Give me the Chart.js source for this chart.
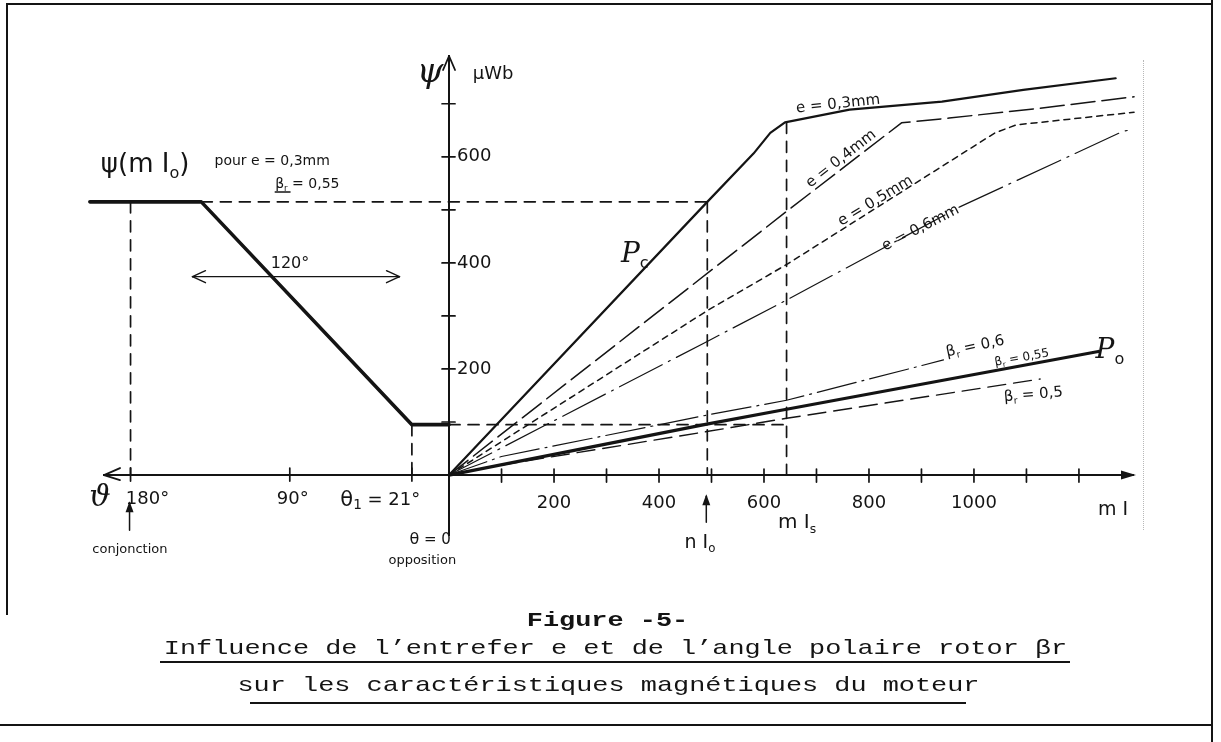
<!DOCTYPE html>
<html lang="fr">
<head>
<meta charset="utf-8">
<title>Figure -5-</title>
<script src="https://cdn.jsdelivr.net/npm/chart.js@4.4.1/dist/chart.umd.min.js"></script>
<style>
html,body{margin:0;padding:0;background:#fff;}
#wrap{position:relative;width:1221px;height:742px;overflow:hidden;background:#fff;}
#c{position:absolute;left:0;top:0;}
.cap{position:absolute;width:1221px;text-align:center;font-family:"Liberation Mono","DejaVu Sans Mono",monospace;color:#141414;white-space:nowrap;line-height:1;font-size:21px;transform:scaleX(1.28);transform-origin:center;}
.ln{position:absolute;background:#141414;}
.dot{position:absolute;border-left:1px dotted #b8b8b8;width:0;}
</style>
</head>
<body>
<div id="wrap">
  <canvas id="c" width="1221" height="742"></canvas>
  <div class="ln" style="left:6px;top:3px;width:1207px;height:2px"></div>
  <div class="ln" style="left:6px;top:3px;width:2px;height:612px"></div>
  <div class="ln" style="left:1211px;top:0;width:2px;height:742px"></div>
  <div class="ln" style="left:0;top:724px;width:1213px;height:2px"></div>
  <div class="dot" style="left:1143px;top:60px;height:470px"></div>
  <div class="cap" style="top:610px;left:-3px;font-weight:bold;">Figure -5-</div>
  <div class="cap" style="top:638px;left:5px;">Influence de l’entrefer e et de l’angle polaire rotor βr</div>
  <div class="ln" style="left:160px;top:661px;width:910px;height:2px"></div>
  <div class="cap" style="top:675px;left:-2px;">sur les caractéristiques magnétiques du moteur</div>
  <div class="ln" style="left:250px;top:702px;width:716px;height:2px"></div>
</div>
<script>
// ---------------- data ----------------
// right half-plane : flux ψ (µWb) versus mI, for several air gaps e (βr = 0,55)
const mI_e03  = [0, 492, 580, 612, 640, 763, 939, 1094, 1270];
const psi_e03 = [0, 515, 606, 645, 665, 689, 704, 726, 748];
const mI_e04  = [0, 643, 862, 953, 1130, 1305];
const psi_e04 = [0, 497, 664, 673, 692, 713];
const mI_e05  = [0, 492, 645, 1040, 1080, 1305];
const psi_e05 = [0, 310, 398, 645, 660, 684];
const mI_e06  = [0, 490, 645, 974, 1284, 1305];
const psi_e06 = [0, 251, 331, 506, 648, 652];
// opposition-position curves for several rotor pole angles βr
const mI_b06   = [0, 100, 491, 643, 942];
const psi_b06  = [0, 35, 113, 141, 217];
const mI_b055  = [0, 491, 643, 1237];
const psi_b055 = [0, 96, 124, 233];
const mI_b05   = [0, 100, 491, 643, 1126];
const psi_b05  = [0, 19, 82, 107, 181];
// left half-plane : ψ(mI0) versus rotor angle θ (degrees)
const theta_deg = [203, 140, 21, 0];
const psi_theta = [515, 515, 95, 95];
// characteristic values
const mI0 = 492, mIs = 643, psi_mI0 = 515, psi_knee03 = 665, psi_opp = 95;
const theta_plateau = 140, theta_conj = 180, theta_1 = 21;
// ticks
const mI_ticks        = [100, 200, 300, 400, 500, 600, 700, 800, 900, 1000, 1100, 1200];
const mI_tick_labels  = ['', '200', '', '400', '', '600', '', '800', '', '1000', '', ''];
const theta_ticks       = [180, 90, 21];
const theta_tick_labels = ['180°', '90°', ''];
const psi_ticks       = [100, 200, 300, 400, 500, 600, 700];
const psi_tick_labels = ['', '200', '', '400', '', '600', ''];

// ---------------- drawing ----------------
const INK = '#141414';
const HAND = '"DejaVu Sans","Liberation Sans",sans-serif';
const SERIF = '"DejaVu Serif","Liberation Serif",serif';
const DEG = 3.371;                 // mI-units per degree on the θ half-axis
const toX = t => -t * DEG;
const X_MIN = toX(195), X_MAX = 1303, Y_MIN = -113, Y_MAX = 790;

const pts = (xs, ys) => xs.map((v, i) => ({x: v, y: ys[i]}));
const ds = (data, w, dash) => ({data, borderColor: INK, borderWidth: w, borderDash: dash || [],
  pointRadius: 0, fill: false, tension: 0, clip: false, borderCapStyle: 'round', borderJoinStyle: 'round'});
const guide = data => ds(data, 1.7, [11, 8]);

const datasets = [
  guide([{x: toX(theta_plateau), y: psi_mI0}, {x: mI0, y: psi_mI0}]),
  guide([{x: toX(theta_conj), y: psi_mI0}, {x: toX(theta_conj), y: 0}]),
  guide([{x: toX(theta_1), y: psi_opp}, {x: toX(theta_1), y: 0}]),
  guide([{x: 0, y: psi_opp}, {x: mIs, y: psi_opp}]),
  guide([{x: mI0, y: psi_mI0}, {x: mI0, y: 0}]),
  guide([{x: mIs, y: psi_knee03}, {x: mIs, y: 0}]),
  ds(theta_deg.map((t, i) => ({x: toX(t), y: psi_theta[i]})), 3.6),
  ds(pts(mI_e03, psi_e03), 2.2),
  ds(pts(mI_e04, psi_e04), 1.5, [24, 7]),
  ds(pts(mI_e05, psi_e05), 1.5, [6, 5]),
  ds(pts(mI_e06, psi_e06), 1.2, [48, 7, 2, 7]),
  ds(pts(mI_b06, psi_b06), 1.2, [40, 6, 2, 6]),
  ds(pts(mI_b055, psi_b055), 3.2),
  ds(pts(mI_b05, psi_b05), 1.4, [18, 8])
];

// rich text: parts = [[text, size, family?, 'sub'?, 'u'?, extraDy?], ...]
function rich(ctx, parts, X, Y, rot, align) {
  ctx.save();
  ctx.translate(X, Y);
  ctx.rotate((rot || 0) * Math.PI / 180);
  ctx.textBaseline = 'alphabetic'; ctx.textAlign = 'left';
  let w = 0, maxSize = 0;
  const items = parts.map(p => {
    const size = p[3] === 'sub' ? p[1] * 0.62 : p[1];
    const font = (p[2] === 'serif' ? 'italic ' : '') + size + 'px ' + (p[2] === 'serif' ? SERIF : HAND);
    ctx.font = font;
    const wd = ctx.measureText(p[0]).width;
    w += wd;
    if (p[3] !== 'sub') maxSize = Math.max(maxSize, p[1]);
    return {t: p[0], font, wd, dy: (p[3] === 'sub' ? p[1] * 0.22 : 0) + (p[5] || 0), u: p[4] === 'u', size};
  });
  const base = maxSize * 0.36;          // put the x-height centre on Y
  let cx = align === 'left' ? 0 : -w / 2;
  for (const it of items) {
    ctx.font = it.font;
    ctx.fillText(it.t, cx, base + it.dy);
    if (it.u) { ctx.lineWidth = 1.3; ctx.beginPath(); ctx.moveTo(cx, base + it.size * 0.3); ctx.lineTo(cx + it.wd + 6, base + it.size * 0.3); ctx.stroke(); }
    cx += it.wd;
  }
  ctx.restore();
}

const deco = {
  id: 'deco',
  afterDraw(chart) {
    const {ctx, scales: {x, y}} = chart;
    const PX = v => x.getPixelForValue(v), PY = v => y.getPixelForValue(v);
    const x0 = PX(0), y0 = PY(0);
    ctx.save();
    ctx.strokeStyle = INK; ctx.fillStyle = INK; ctx.lineCap = 'round';
    const seg = (a, b, c, d, w) => { ctx.lineWidth = w || 1.7; ctx.beginPath(); ctx.moveTo(a, b); ctx.lineTo(c, d); ctx.stroke(); };
    // tick marks crossing the axes
    mI_ticks.forEach(v => seg(PX(v), y0 - 6, PX(v), y0 + 7));
    theta_ticks.forEach(t => seg(PX(toX(t)), y0 - 7, PX(toX(t)), y0 + 6));
    psi_ticks.forEach(v => seg(x0 - 7, PY(v), x0 + 6, PY(v)));
    // ψ tick labels (right of the axis)
    ctx.font = '18px ' + HAND; ctx.textAlign = 'left'; ctx.textBaseline = 'middle';
    psi_ticks.forEach((v, i) => { if (psi_tick_labels[i]) ctx.fillText(psi_tick_labels[i], x0 + 8, PY(v)); });
    // θ tick labels
    rich(ctx, [[theta_tick_labels[0], 18]], PX(toX(theta_ticks[0])) + 17, y0 + 22);
    rich(ctx, [[theta_tick_labels[1], 18]], PX(toX(theta_ticks[1])) + 3, y0 + 22);
    rich(ctx, [['θ', 21, null, null, null, 1], ['1', 22, null, 'sub'], [' = 21°', 18]], PX(-131), y0 + 22);
    rich(ctx, [['ϑ', 30, 'serif']], PX(-665), y0 + 20);
    // axis arrows
    const lx = PX(X_MIN), rx = PX(X_MAX), ty = PY(Y_MAX);
    seg(lx, y0, lx + 16, y0 - 7, 1.8); seg(lx, y0, lx + 16, y0 + 5, 1.8);
    ctx.beginPath(); ctx.moveTo(rx + 3, y0); ctx.lineTo(rx - 12, y0 - 4.5); ctx.lineTo(rx - 12, y0 + 4.5); ctx.closePath(); ctx.fill();
    seg(x0, ty, x0 - 6, ty + 14, 1.8); seg(x0, ty, x0 + 6, ty + 14, 1.8);
    // small pointing arrows (conjonction, nI0)
    const upArrow = (X, y1, y2) => {
      seg(X, y1, X, y2, 1.5);
      ctx.beginPath(); ctx.moveTo(X, y2 - 2); ctx.lineTo(X - 4, y2 + 9); ctx.lineTo(X + 4, y2 + 9); ctx.closePath(); ctx.fill();
    };
    upArrow(PX(toX(theta_conj)) - 1, PY(-104), PY(-53));
    upArrow(PX(mI0) - 1, PY(-89), PY(-40));
    // 120° double arrow
    const ay = PY(374), ax1 = PX(toX(145)), ax2 = PX(toX(28));
    seg(ax1, ay, ax2, ay, 1.4);
    seg(ax1, ay, ax1 + 13, ay - 6, 1.4); seg(ax1, ay, ax1 + 13, ay + 6, 1.4);
    seg(ax2, ay, ax2 - 13, ay - 6, 1.4); seg(ax2, ay, ax2 - 13, ay + 6, 1.4);

    // annotations [parts, x, y, rotation]
    const notes = [
      [[['ψ', 34, 'serif']], -36, 764, 0],
      [[['µWb', 18]], 84, 758, 0],
      [[['ψ(m I', 26], ['o', 26, null, 'sub'], [')', 26]], -579, 589, 0],
      [[['pour e = 0,3mm', 14]], -337, 594, 0],
      [[['β', 14, null, null, 'u'], ['r', 14, null, 'sub'], [' = 0,55', 14]], -270, 551, 0],
      [[['120°', 16]], -303, 402, 0],
      [[['conjonction', 13]], -608, -138, 0],
      [[['θ', 16], [' = 0', 15]], -36, -119, 0],
      [[['opposition', 13]], -51, -158, 0],
      [[['n I', 19], ['o', 19, null, 'sub']], 478, -125, 0],
      [[['m I', 20], ['s', 20, null, 'sub']], 663, -87, 0],
      [[['m I', 19]], 1265, -62, 0],
      [[['P', 28, 'serif'], ['c', 26, null, 'sub']], 354, 421, 0],
      [[['P', 28, 'serif'], ['o', 26, null, 'sub']], 1259, 240, 0],
      [[['e = 0,3mm', 15]], 741, 702, -6],
      [[['e = 0,4mm', 15]], 745, 598, -38],
      [[['e = 0,5mm', 15]], 811, 519, -31],
      [[['e = 0,6mm', 15]], 897, 468, -27],
      [[['β', 15], ['r', 15, null, 'sub'], [' = 0,6', 15]], 1002, 245, -12],
      [[['β', 12], ['r', 12, null, 'sub'], [' = 0,55', 12]], 1091, 223, -10],
      [[['β', 15], ['r', 15, null, 'sub'], [' = 0,5', 15]], 1113, 154, -5]
    ];
    notes.forEach(n => rich(ctx, n[0], PX(n[1]), PY(n[2]), n[3]));
    ctx.restore();
  }
};

const xTickValues = mI_ticks.slice();
new Chart(document.getElementById('c'), {
  type: 'line',
  data: {datasets},
  options: {
    responsive: false, animation: false, devicePixelRatio: 1,
    layout: {padding: {left: 104, right: 88, top: 56, bottom: 207}},
    plugins: {legend: {display: false}, tooltip: {enabled: false}},
    scales: {
      x: {
        type: 'linear', min: X_MIN, max: X_MAX, position: {y: 0},
        grid: {display: false, drawTicks: false},
        border: {display: true, color: INK, width: 2},
        afterBuildTicks: s => { s.ticks = xTickValues.map(v => ({value: v})); },
        ticks: {autoSkip: false, maxRotation: 0, minRotation: 0, padding: 17, color: INK,
                font: {family: 'DejaVu Sans', size: 18},
                callback: (v, i) => mI_tick_labels[i]}
      },
      y: {
        type: 'linear', min: Y_MIN, max: Y_MAX, position: {x: 0},
        grid: {display: false, drawTicks: false},
        border: {display: true, color: INK, width: 2},
        ticks: {display: false}
      }
    }
  },
  plugins: [deco]
});
</script>
</body>
</html>
